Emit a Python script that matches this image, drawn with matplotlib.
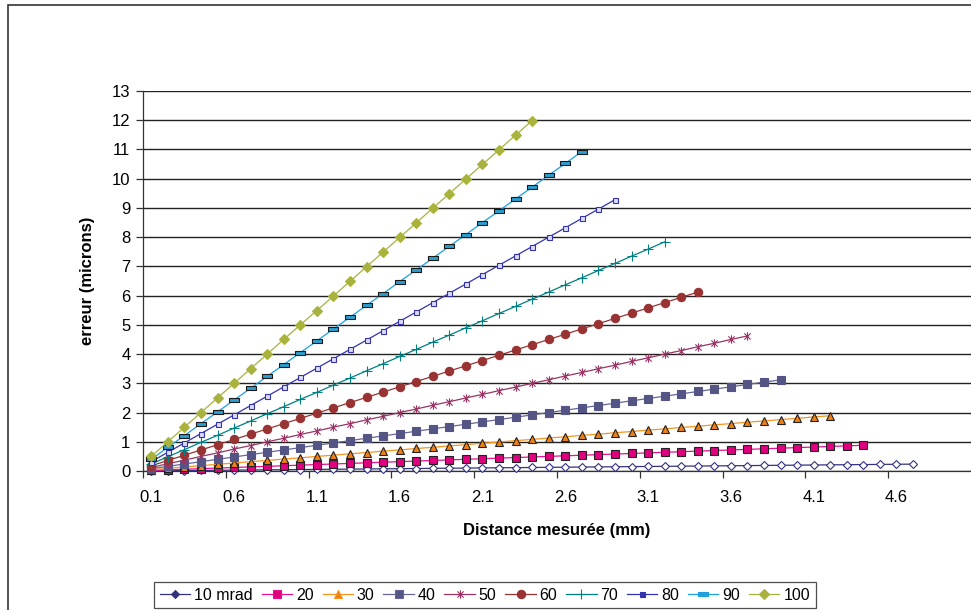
"""Erreur (microns) en fonction de la distance mesurée, pour plusieurs angles."""
import matplotlib
matplotlib.use("Agg")
import matplotlib.pyplot as plt
from matplotlib.lines import Line2D
from matplotlib.patches import Rectangle
from matplotlib.path import Path

plt.rcParams["font.family"] = ["Liberation Sans", "DejaVu Sans"]

# catégories de l'axe x (distance mesurée, mm)
distances = [0.1, 0.2, 0.3, 0.4, 0.5, 0.6, 0.7, 0.8, 0.9, 1.0,
             1.1, 1.2, 1.3, 1.4, 1.5, 1.6, 1.7, 1.8, 1.9, 2.0,
             2.1, 2.2, 2.3, 2.4, 2.5, 2.6, 2.7, 2.8, 2.9, 3.0,
             3.1, 3.2, 3.3, 3.4, 3.5, 3.6, 3.7, 3.8, 3.9, 4.0,
             4.1, 4.2, 4.3, 4.4, 4.5, 4.6, 4.7, 4.8, 4.9, 5.0]

labels = ["10 mrad", "20", "30", "40", "50", "60", "70", "80", "90", "100"]

err_10 = [0.005, 0.010, 0.015, 0.020, 0.025, 0.030, 0.035, 0.040, 0.045, 0.050,
          0.055, 0.060, 0.065, 0.070, 0.075, 0.080, 0.085, 0.090, 0.095, 0.100,
          0.105, 0.110, 0.115, 0.120, 0.125, 0.130, 0.135, 0.140, 0.145, 0.150,
          0.155, 0.160, 0.165, 0.170, 0.175, 0.180, 0.185, 0.190, 0.195, 0.200,
          0.205, 0.210, 0.215, 0.220, 0.225, 0.230, 0.235]
err_20 = [0.02, 0.04, 0.06, 0.08, 0.10, 0.12, 0.14, 0.16, 0.18, 0.20,
          0.22, 0.24, 0.26, 0.28, 0.30, 0.32, 0.34, 0.36, 0.38, 0.40,
          0.42, 0.44, 0.46, 0.48, 0.50, 0.52, 0.54, 0.56, 0.58, 0.60,
          0.62, 0.64, 0.66, 0.68, 0.70, 0.72, 0.74, 0.76, 0.78, 0.80,
          0.82, 0.84, 0.86, 0.88]
err_30 = [0.05, 0.09, 0.14, 0.18, 0.23, 0.27, 0.32, 0.36, 0.41, 0.45,
          0.50, 0.54, 0.59, 0.63, 0.68, 0.72, 0.77, 0.81, 0.86, 0.90,
          0.95, 0.99, 1.04, 1.08, 1.13, 1.17, 1.22, 1.26, 1.31, 1.35,
          1.40, 1.44, 1.49, 1.53, 1.58, 1.62, 1.67, 1.71, 1.76, 1.80,
          1.85, 1.89]
err_40 = [0.08, 0.16, 0.24, 0.32, 0.40, 0.48, 0.56, 0.64, 0.72, 0.80,
          0.88, 0.96, 1.04, 1.12, 1.20, 1.28, 1.36, 1.44, 1.52, 1.60,
          1.68, 1.76, 1.84, 1.92, 2.00, 2.08, 2.16, 2.24, 2.32, 2.40,
          2.48, 2.56, 2.64, 2.72, 2.80, 2.88, 2.96, 3.04, 3.12]
err_50 = [0.12, 0.25, 0.37, 0.50, 0.62, 0.75, 0.87, 1.00, 1.12, 1.25,
          1.37, 1.50, 1.62, 1.75, 1.87, 2.00, 2.12, 2.25, 2.37, 2.50,
          2.62, 2.75, 2.87, 3.00, 3.12, 3.25, 3.37, 3.50, 3.62, 3.75,
          3.87, 4.00, 4.12, 4.25, 4.37, 4.50, 4.62]
err_60 = [0.18, 0.36, 0.54, 0.72, 0.90, 1.08, 1.26, 1.44, 1.62, 1.80,
          1.98, 2.16, 2.34, 2.52, 2.70, 2.88, 3.06, 3.24, 3.42, 3.60,
          3.78, 3.96, 4.14, 4.32, 4.50, 4.68, 4.86, 5.04, 5.22, 5.40,
          5.58, 5.76, 5.94, 6.12]
err_70 = [0.24, 0.49, 0.73, 0.98, 1.22, 1.47, 1.71, 1.96, 2.20, 2.45,
          2.69, 2.94, 3.18, 3.43, 3.67, 3.92, 4.16, 4.41, 4.65, 4.90,
          5.14, 5.39, 5.63, 5.88, 6.12, 6.37, 6.61, 6.86, 7.10, 7.35,
          7.59, 7.84]
err_80 = [0.32, 0.64, 0.96, 1.28, 1.60, 1.92, 2.24, 2.56, 2.88, 3.20,
          3.52, 3.84, 4.16, 4.48, 4.80, 5.12, 5.44, 5.76, 6.08, 6.40,
          6.72, 7.04, 7.36, 7.68, 8.00, 8.32, 8.64, 8.96, 9.28]
err_90 = [0.40, 0.81, 1.21, 1.62, 2.02, 2.43, 2.83, 3.24, 3.64, 4.05,
          4.45, 4.86, 5.26, 5.67, 6.07, 6.48, 6.88, 7.28, 7.69, 8.09,
          8.50, 8.90, 9.31, 9.71, 10.12, 10.52, 10.93]
err_100 = [0.50, 1.00, 1.50, 2.00, 2.50, 3.00, 3.50, 4.00, 4.50, 5.00,
           5.49, 5.99, 6.49, 6.99, 7.49, 7.99, 8.49, 8.99, 9.49, 9.99,
           10.49, 10.99, 11.49, 11.99]

series = [err_10, err_20, err_30, err_40, err_50,
          err_60, err_70, err_80, err_90, err_100]

# marqueurs "à la Excel"
star = Path([(0, -1), (0, 1), (-0.75, -0.75), (0.75, 0.75), (-0.75, 0.75), (0.75, -0.75)],
            [Path.MOVETO, Path.LINETO, Path.MOVETO, Path.LINETO, Path.MOVETO, Path.LINETO])
dash = Path([(-1, -0.38), (1, -0.38), (1, 0.38), (-1, 0.38), (-1, -0.38)],
            [Path.MOVETO, Path.LINETO, Path.LINETO, Path.LINETO, Path.CLOSEPOLY])

# (couleur ligne, marqueur, taille, remplissage, bord, remplissage légende)
styles = [
    ("#333380", "D", 4.2, "white", "#333380", "#333380"),
    ("#E8108C", "s", 5.2, "#E0007F", "#222222", "#E0007F"),
    ("#F7941D", "^", 5.5, "#F08010", "#222222", "#F08010"),
    ("#666699", "s", 6.0, "#555585", "#555585", "#555585"),
    ("#993366", star, 6.0, "none", "#993366", "none"),
    ("#993333", "o", 6.0, "#993333", "#993333", "#993333"),
    ("#008080", "+", 6.5, "none", "#008080", "none"),
    ("#3333B0", "s", 3.6, "#DCDCF4", "#3333B0", "#3333B0"),
    ("#1BA1E2", dash, 7.5, "#2A9FD0", "#1A1A1A", "#2A9FD0"),
    ("#A8B23C", "D", 5.0, "#A8B23C", "#A8B23C", "#A8B23C"),
]

fig = plt.figure(figsize=(9.71, 6.10), dpi=100)
ax = fig.add_axes([143 / 971, 139 / 610, 1 - 143 / 971, 380 / 610])

for vals, (lc, mk, ms, fc, ec, _) in zip(series, styles):
    idx = list(range(len(vals)))
    ax.plot(idx, vals, color=lc, lw=0.9, marker=mk, markersize=ms,
            markerfacecolor=fc, markeredgecolor=ec, markeredgewidth=0.8,
            clip_on=False, zorder=3)

ax.set_xlim(-0.5, len(distances) - 0.5)
ax.set_ylim(0, 13)

# axe y
ax.set_yticks(range(0, 14))
ax.yaxis.grid(True, color="#222222", lw=1.0)
ax.set_axisbelow(True)
ax.tick_params(axis="y", direction="out", length=5, width=0.9, color="#333333",
               labelsize=12, pad=4)
ax.set_ylabel("erreur (microns)", fontsize=12, fontweight="bold", labelpad=12)

# axe x : étiquettes toutes les 5 catégories, graduations entre catégories
lab_idx = list(range(0, len(distances), 5))
ax.set_xticks(lab_idx)
ax.set_xticklabels([f"{distances[i]:.1f}" for i in lab_idx])
ax.set_xticks([i - 0.5 for i in lab_idx], minor=True)
ax.tick_params(axis="x", which="major", length=0, labelsize=12, pad=14)
ax.tick_params(axis="x", which="minor", direction="out", length=5, width=0.9,
               color="#333333")
ax.set_xlabel("Distance mesurée (mm)", fontsize=12, fontweight="bold", labelpad=13)

for side in ("top", "right"):
    ax.spines[side].set_visible(False)
ax.spines["left"].set_color("#333333")
ax.spines["bottom"].set_color("#333333")
ax.spines["left"].set_linewidth(0.9)
ax.spines["bottom"].set_linewidth(0.9)

# légende
handles = [Line2D([], [], color=lc, lw=0.9, marker=mk, markersize=ms,
                  markerfacecolor=lfc, markeredgecolor=lc if lfc != "none" else ec,
                  markeredgewidth=0.8)
           for (lc, mk, ms, fc, ec, lfc) in styles]
leg = fig.legend(handles, labels, loc="center", bbox_to_anchor=(485 / 971, 15 / 610),
                 ncol=10, fontsize=11.5, frameon=True, fancybox=False,
                 handlelength=1.9, handletextpad=0.25, columnspacing=0.55,
                 borderpad=0.35, borderaxespad=0)
leg.get_frame().set_edgecolor("#222222")
leg.get_frame().set_linewidth(0.9)

# cadre extérieur du graphique (coupé à droite et en bas)
fig.patches.append(Rectangle((8 / 971, -0.05), 1.2, 1.05 - 5 / 610,
                             transform=fig.transFigure, fill=False,
                             edgecolor="#333333", lw=1.2))

fig.savefig("out.png", dpi=100)
